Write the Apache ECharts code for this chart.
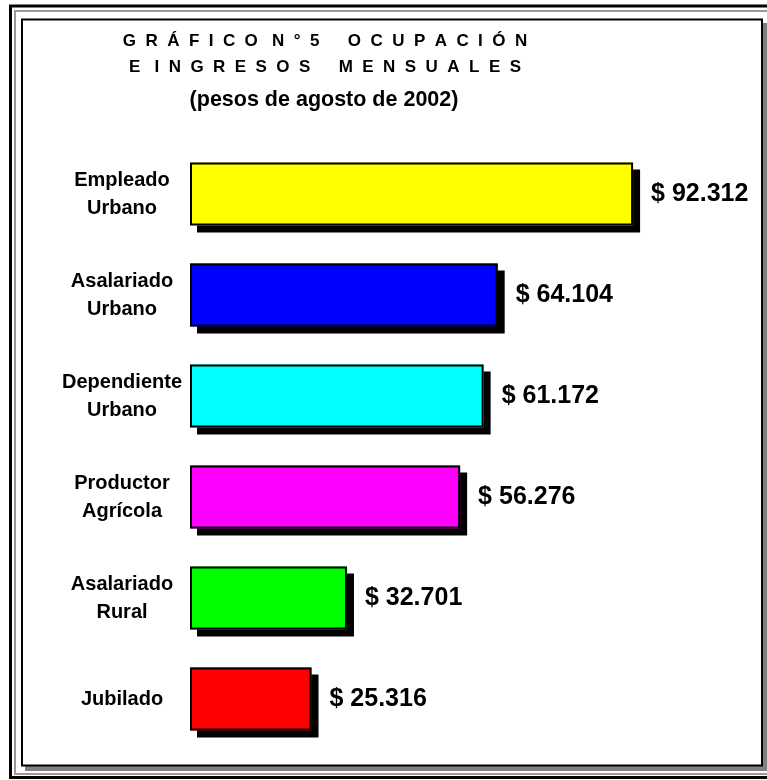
<!DOCTYPE html>
<html>
<head>
<meta charset="utf-8">
<script src="https://cdn.jsdelivr.net/npm/echarts@6/dist/echarts.min.js"></script>
<style>
  html, body { margin: 0; padding: 0; background: #fff; }
  #chart { width: 767px; height: 780px; }
</style>
</head>
<body>
<div id="chart"></div>
<script>
// Ingresos mensuales por ocupacion (pesos de agosto de 2002)
const categories = [
    'Empleado\nUrbano',
    'Asalariado\nUrbano',
    'Dependiente\nUrbano',
    'Productor\nAgrícola',
    'Asalariado\nRural',
    'Jubilado'
];
const ingresos = [92312, 64104, 61172, 56276, 32701, 25316];
const barColors = ['#ffff00', '#0000ff', '#00ffff', '#ff00ff', '#00ff00', '#ff0000'];

const titleLines = [
    'G  R  Á  F  I  C  O   N  °  5      O  C  U  P  A  C  I  Ó  N',
    'E   I  N  G  R  E  S  O  S      M  E  N  S  U  A  L  E  S',
    '(pesos de agosto de 2002)'
];

const FONT = 'Arial, "Liberation Sans", sans-serif';

// $ 92.312 style (dot as thousands separator)
function pesos(v) {
    return '$ ' + String(v).replace(/\B(?=(\d{3})+(?!\d))/g, '.');
}

const chart = echarts.init(document.getElementById('chart'), null, { renderer: 'canvas' });

const option = {
    backgroundColor: '#ffffff',
    animation: false,
    graphic: [
        // outer double frame
        { type: 'rect', z: -10, shape: { x: 10.5, y: 6, width: 800, height: 771.5 },
          style: { fill: null, stroke: '#000', lineWidth: 3 } },
        { type: 'rect', z: -10, shape: { x: 15, y: 11, width: 800, height: 763 },
          style: { fill: null, stroke: '#999', lineWidth: 2 } },
        // inner box with its grey shadow
        { type: 'rect', z: -10, shape: { x: 25, y: 23, width: 742, height: 748 },
          style: { fill: '#808080' } },
        { type: 'rect', z: -10, shape: { x: 22, y: 19.5, width: 740, height: 746 },
          style: { fill: '#fff', stroke: '#000', lineWidth: 2 } },
        // title lines
        { type: 'text', x: 325, y: 41, style: { text: titleLines[0], fill: '#000',
          font: 'bold 17px ' + FONT, textAlign: 'center', textVerticalAlign: 'middle' } },
        { type: 'text', x: 325, y: 67.5, style: { text: titleLines[1], fill: '#000',
          font: 'bold 17px ' + FONT, textAlign: 'center', textVerticalAlign: 'middle' } },
        { type: 'text', x: 324, y: 100, style: { text: titleLines[2], fill: '#000',
          font: 'bold 21.5px ' + FONT, textAlign: 'center', textVerticalAlign: 'middle' } }
    ],
    grid: { left: 190, top: 143.5, width: 480, bottom: 30.5, containLabel: false },
    xAxis: {
        type: 'value',
        min: 0,
        max: 100000,
        show: false,
        splitLine: { show: false }
    },
    yAxis: {
        type: 'category',
        data: categories,
        inverse: true,
        axisLine: { show: false },
        axisTick: { show: false },
        axisLabel: {
            margin: 68,
            align: 'center',
            color: '#000',
            fontFamily: FONT,
            fontWeight: 'bold',
            fontSize: 20,
            lineHeight: 28
        }
    },
    series: [
        // coloured fill with a hard black drop shadow
        {
            type: 'bar',
            barWidth: 63,
            data: ingresos.map((v, i) => ({
                value: v,
                itemStyle: { color: barColors[i] }
            })),
            itemStyle: {
                shadowColor: '#000',
                shadowBlur: 0,
                shadowOffsetX: 7,
                shadowOffsetY: 7
            },
            silent: true
        },
        // black outline on top + value labels
        {
            type: 'bar',
            barWidth: 63,
            barGap: '-100%',
            data: ingresos,
            itemStyle: {
                color: 'rgba(0,0,0,0)',
                borderColor: '#000',
                borderWidth: 2
            },
            label: {
                show: true,
                position: 'right',
                distance: 18,
                formatter: p => pesos(p.value),
                color: '#000',
                fontFamily: FONT,
                fontWeight: 'bold',
                fontSize: 25
            }
        }
    ]
};

chart.setOption(option);
</script>
</body>
</html>
